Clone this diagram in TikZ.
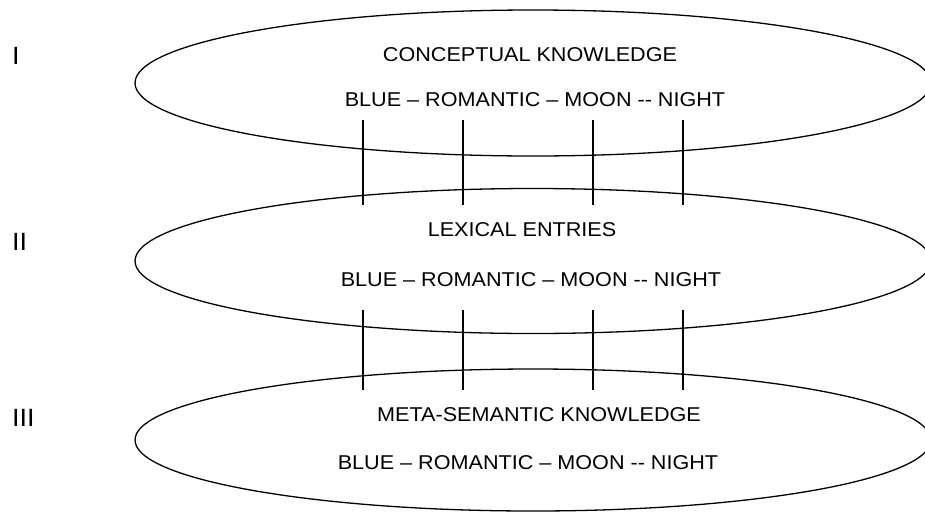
\documentclass[tikz,border=0pt]{standalone}
\usepackage{fontspec}
\setmainfont{Liberation Sans}[FakeStretch=1.08]
\usetikzlibrary{shapes.geometric}
\begin{document}
\begin{tikzpicture}[x=1pt,y=-1pt,
  txt/.style={inner sep=0pt,font=\fontsize{20}{22}\selectfont},
  num/.style={inner sep=0pt,anchor=west,font=\fontsize{25}{28}\selectfont},
  lvl/.style={ellipse,draw,line width=1.3pt,inner sep=0pt,minimum width=796pt},
  link/.style={line width=1.3pt}]
\useasboundingbox (0,0) rectangle (925,512);
\clip (0,0) rectangle (925,512);
\node[lvl,minimum height=146pt] (e1) at (533,83) {};
\node[lvl,minimum height=145pt] (e2) at (533,261) {};
\node[lvl,minimum height=142pt] (e3) at (533,440) {};
\node[num] (l1) at (12,56) {I};
\node[num] (l2) at (12,242) {II};
\node[num] (l3) at (12,418) {III};
\node[txt] (t1) at (530,55) {CONCEPTUAL KNOWLEDGE};
\node[txt] (w1) at (535,100) {BLUE – ROMANTIC – MOON -{}- NIGHT};
\node[txt] (t2) at (522,230) {LEXICAL ENTRIES};
\node[txt] (w2) at (531,280) {BLUE – ROMANTIC – MOON -{}- NIGHT};
\node[txt] (t3) at (539,415) {META-SEMANTIC KNOWLEDGE};
\node[txt] (w3) at (528,463) {BLUE – ROMANTIC – MOON -{}- NIGHT};
\foreach \i/\x in {1/363,2/463,3/593,4/683}{
  \coordinate (a\i) at (\x,120);
  \coordinate (b\i) at (\x,205);
  \coordinate (c\i) at (\x,310);
  \coordinate (d\i) at (\x,390);
  \draw[link] (a\i) -- (b\i);
  \draw[link] (c\i) -- (d\i);
}
\end{tikzpicture}
\end{document}
